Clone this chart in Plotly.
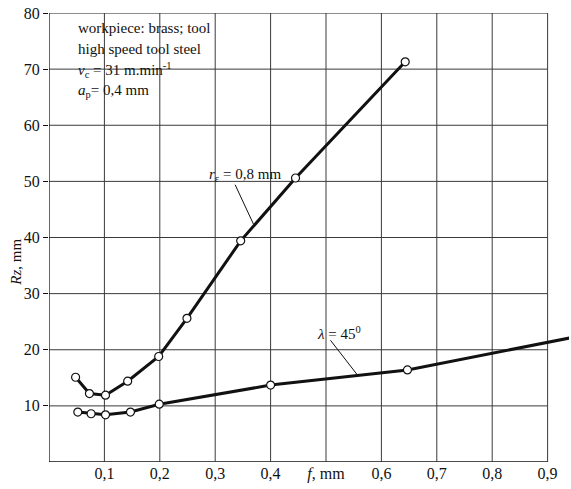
import plotly.graph_objects as go

# Data
f_r = [0.048, 0.073, 0.102, 0.142, 0.198, 0.249, 0.346, 0.445, 0.643]
rz_r = [15.1, 12.2, 11.9, 14.4, 18.8, 25.6, 39.4, 50.6, 71.3]

f_l = [0.052, 0.076, 0.102, 0.147, 0.199, 0.40, 0.647, 0.94]
rz_l = [8.9, 8.6, 8.4, 8.9, 10.3, 13.7, 16.4, 22.1]

x_ticks = [0.1, 0.2, 0.3, 0.4, 0.5, 0.6, 0.7, 0.8, 0.9]
x_ticktext = ["0,1", "0,2", "0,3", "0,4", "<i>f</i>, mm", "0,6", "0,7", "0,8", "0,9"]
y_ticks = [10, 20, 30, 40, 50, 60, 70, 80]
y_ticktext = ["10", "20", "30", "40", "50", "60", "70", "80"]

FONT = "Liberation Serif, Times New Roman, serif"
INK = "#111111"
GRID = "#3a3a3a"

L, T, PW, PH = 49, 13, 520, 449

fig = go.Figure()

for fx, ry in [(f_r, rz_r), (f_l, rz_l)]:
    fig.add_trace(go.Scatter(
        x=fx, y=ry, mode="lines+markers",
        line=dict(color=INK, width=3),
        marker=dict(symbol="circle", size=8, color="white",
                    line=dict(color=INK, width=1.2)),
        cliponaxis=False, showlegend=False, hoverinfo="x+y"))

shapes = []
for yv in [10, 20, 30, 40, 50, 60, 70]:
    shapes.append(dict(type="line", xref="x", yref="y", x0=0, x1=0.9, y0=yv, y1=yv,
                       line=dict(color=GRID, width=1), layer="below"))
shapes.append(dict(type="line", xref="x", yref="y", x0=0, x1=0.9, y0=80, y1=80,
                   line=dict(color="#666666", width=1.3), layer="below"))
shapes.append(dict(type="line", xref="x", yref="y", x0=0, x1=0.9, y0=0, y1=0,
                   line=dict(color=INK, width=1.3), layer="below"))
shapes.append(dict(type="line", xref="x", yref="y", x0=0, x1=0, y0=0, y1=80,
                   line=dict(color=INK, width=1.3), layer="below"))
for xv in x_ticks:
    shapes.append(dict(type="line", xref="x", yref="y", x0=xv, x1=xv, y0=0, y1=80,
                       line=dict(color=GRID, width=1), layer="below"))
# leader lines
shapes.append(dict(type="line", xref="x", yref="y", x0=0.336, x1=0.369, y0=49.4, y1=42.4,
                   line=dict(color=INK, width=1)))
shapes.append(dict(type="line", xref="x", yref="y", x0=0.508, x1=0.556, y0=21.7, y1=15.6,
                   line=dict(color=INK, width=1)))

ann = []
info_lines = [
    ("workpiece: brass; tool", 28),
    ("high speed tool steel", 49),
    ("<i>v</i><sub>c</sub> = 31 m.min<sup>-1</sup>", 70),
    ("<i>a</i><sub>p</sub>= 0,4 mm", 91),
]
for txt, py in info_lines:
    ann.append(dict(text=txt, xref="paper", yref="paper",
                    x=(76 - L) / PW, y=1 - (py - T) / PH,
                    xanchor="left", yanchor="middle", showarrow=False,
                    font=dict(family=FONT, size=15, color=INK)))

ann.append(dict(text="<i>r</i><sub>ε</sub> = 0,8 mm", xref="x", yref="y",
                x=0.423, y=51.2, xanchor="right", yanchor="middle", showarrow=False,
                font=dict(family=FONT, size=15, color=INK)))
ann.append(dict(text="<i>λ</i> = 45<sup>0</sup>", xref="x", yref="y",
                x=0.566, y=23.0, xanchor="right", yanchor="middle", showarrow=False,
                font=dict(family=FONT, size=15, color=INK)))
ann.append(dict(text="<i>Rz</i>, mm", xref="paper", yref="y",
                x=(16 - L) / PW, y=35.5, textangle=-90,
                xanchor="center", yanchor="middle", showarrow=False,
                font=dict(family=FONT, size=15, color=INK)))

fig.update_layout(
    width=571, height=489,
    margin=dict(l=L, r=571 - L - PW, t=T, b=489 - T - PH, autoexpand=False),
    paper_bgcolor="white", plot_bgcolor="white",
    shapes=shapes, annotations=ann,
    font=dict(family=FONT, size=16, color=INK),
    xaxis=dict(range=[0, PW / 554], tickvals=x_ticks, ticktext=x_ticktext,
               showgrid=False, zeroline=False, showline=False,
               ticks="", tickfont=dict(family=FONT, size=16, color=INK),
               automargin=False, fixedrange=True, ticklabeloverflow="allow"),
    yaxis=dict(range=[0, 80], tickvals=y_ticks, ticktext=y_ticktext,
               showgrid=False, zeroline=False, showline=False,
               ticks="outside", ticklen=5, tickcolor=INK,
               tickfont=dict(family=FONT, size=16, color=INK),
               automargin=False, fixedrange=True, ticklabeloverflow="allow"),
)

fig.write_html("out.html",
               config={"displayModeBar": False, "staticPlot": True},
               post_script="document.body.style.margin='0';"
                           "document.body.style.overflow='hidden';")
